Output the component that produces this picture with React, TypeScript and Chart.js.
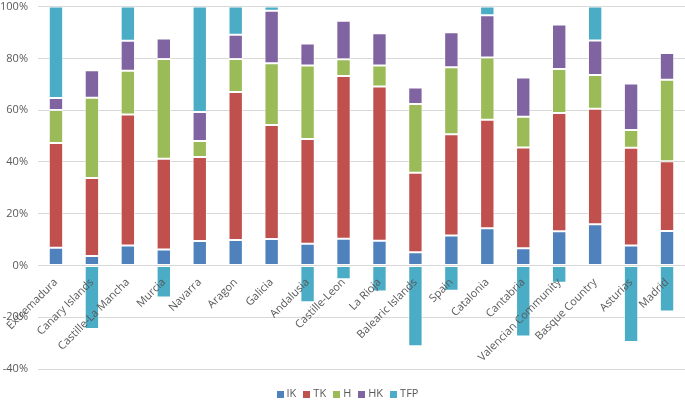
import React, { useEffect, useRef } from "react";
import { Chart, registerables } from "chart.js";

Chart.register(...registerables);

const categories = [
  "Extremadura", "Canary Islands", "Castille-La Mancha", "Murcia", "Navarra", "Aragon",
  "Galicia", "Andalusia", "Castille-Leon", "La Rioja", "Balearic Islands", "Spain",
  "Catalonia", "Cantabria", "Valencian Community", "Basque Country", "Asturias", "Madrid",
];

const IK = [6.8, 3.7, 7.7, 6.2, 9.4, 9.8, 10.2, 8.4, 10.3, 9.5, 5.1, 11.6, 14.4, 6.6, 13.2, 15.9, 7.7, 13.3];
const TK = [40.5, 30.1, 50.6, 35.0, 32.5, 57.2, 44.1, 40.5, 62.9, 59.6, 30.7, 39.1, 41.9, 39.0, 45.7, 44.6, 37.8, 27.0];
const H = [12.8, 31.0, 16.9, 38.6, 6.2, 12.8, 23.8, 28.3, 6.5, 8.1, 26.6, 25.9, 24.0, 11.8, 17.0, 13.1, 6.8, 31.4];
const HK = [4.6, 10.6, 11.6, 7.9, 11.2, 9.3, 20.3, 8.5, 14.8, 12.5, 6.3, 13.5, 16.4, 15.2, 17.2, 13.3, 18.0, 10.4];
const TFP = [35.3, -24.5, 13.2, -12.4, 40.7, 10.9, 1.6, -14.2, -5.3, -10.1, -31.2, -9.8, 3.3, -27.4, -6.7, 13.1, -29.6, -17.8];

const seriesNames = ["IK", "TK", "H", "HK", "TFP"];
const seriesColors = ["#4F81BD", "#C0504D", "#9BBB59", "#8064A2", "#4BACC6"];

const yTicks = [-40, -20, 0, 20, 40, 60, 80, 100];

const FONT = "'Open Sans', 'Noto Sans', sans-serif";
const TEXT_COLOR = "#595959";
const CANVAS_SHIFT = 10;

const categoryLabelsPlugin = {
  id: "categoryLabels",
  afterDatasetsDraw(chart: any) {
    const { ctx, scales } = chart;
    const x = scales.x;
    const y = scales.y;
    const y0 = y.getPixelForValue(0);
    ctx.save();
    ctx.font = `11px ${FONT}`;
    ctx.fillStyle = TEXT_COLOR;
    ctx.textAlign = "right";
    ctx.textBaseline = "middle";
    categories.forEach((c, i) => {
      const cx = x.getPixelForValue(i);
      ctx.save();
      ctx.translate(cx, y0 + 15);
      ctx.rotate(-Math.PI / 4);
      ctx.fillText(c, 0, 0);
      ctx.restore();
    });
    ctx.restore();
  },
};

const bottomLegendPlugin = {
  id: "bottomLegend",
  afterDraw(chart: any) {
    const { ctx } = chart;
    const items = chart.data.datasets.map((d: any) => ({ label: d.label, color: d.backgroundColor }));
    ctx.save();
    ctx.font = `11px ${FONT}`;
    ctx.textBaseline = "middle";
    ctx.textAlign = "left";
    const box = 7;
    const gapText = 3;
    const gapItem = 7;
    const widths = items.map((it: any) => box + gapText + ctx.measureText(it.label).width);
    const total = widths.reduce((a: number, b: number) => a + b, 0) + gapItem * (items.length - 1);
    let xPos = 347.5 - total / 2;
    const yc = 394 + CANVAS_SHIFT;
    items.forEach((it: any, i: number) => {
      ctx.fillStyle = it.color;
      ctx.fillRect(Math.round(xPos), Math.round(yc - box / 2), box, box);
      ctx.fillStyle = TEXT_COLOR;
      ctx.fillText(it.label, xPos + box + gapText, yc);
      xPos += widths[i] + gapItem;
    });
    ctx.restore();
  },
};

export default function App() {
  const ref = useRef<HTMLCanvasElement | null>(null);
  useEffect(() => {
    if (!ref.current) return;
    const series = [IK, TK, H, HK, TFP];
    const chart = new Chart(ref.current, {
      type: "bar",
      data: {
        labels: categories,
        datasets: series.map((data, i) => ({
          label: seriesNames[i],
          data,
          backgroundColor: seriesColors[i],
          borderColor: "rgba(255,255,255,0.55)",
          borderWidth: 1,
          borderSkipped: false,
          categoryPercentage: 1,
          barPercentage: 0.4,
        })),
      },
      options: {
        animation: false,
        responsive: false,
        maintainAspectRatio: false,
        layout: { padding: { top: 0, right: 0, left: 0, bottom: 33 } },
        plugins: {
          tooltip: { enabled: false },
          legend: { display: false },
        },
        scales: {
          x: {
            stacked: true,
            display: false,
          },
          y: {
            stacked: true,
            min: -40,
            max: 100,
            afterBuildTicks: (s: any) => {
              s.ticks = yTicks.map((v) => ({ value: v }));
            },
            afterFit: (s: any) => {
              s.width = 38;
            },
            border: { display: false },
            grid: { color: "#d9d9d9", lineWidth: 1, drawTicks: false },
            ticks: {
              padding: 10,
              color: TEXT_COLOR,
              font: { family: FONT, size: 11 },
              callback: (v: any) => `${v}%`,
            },
          },
        },
      },
      plugins: [categoryLabelsPlugin, bottomLegendPlugin],
    });
    return () => chart.destroy();
  }, []);
  return (
    <div style={{ position: "absolute", left: 0, top: 0, width: 685, height: 402, overflow: "hidden", background: "#fff" }}>
      <canvas
        ref={ref}
        width={685}
        height={402 + CANVAS_SHIFT}
        style={{ position: "absolute", left: 0, top: -CANVAS_SHIFT, width: 685, height: 402 + CANVAS_SHIFT }}
      />
    </div>
  );
}
